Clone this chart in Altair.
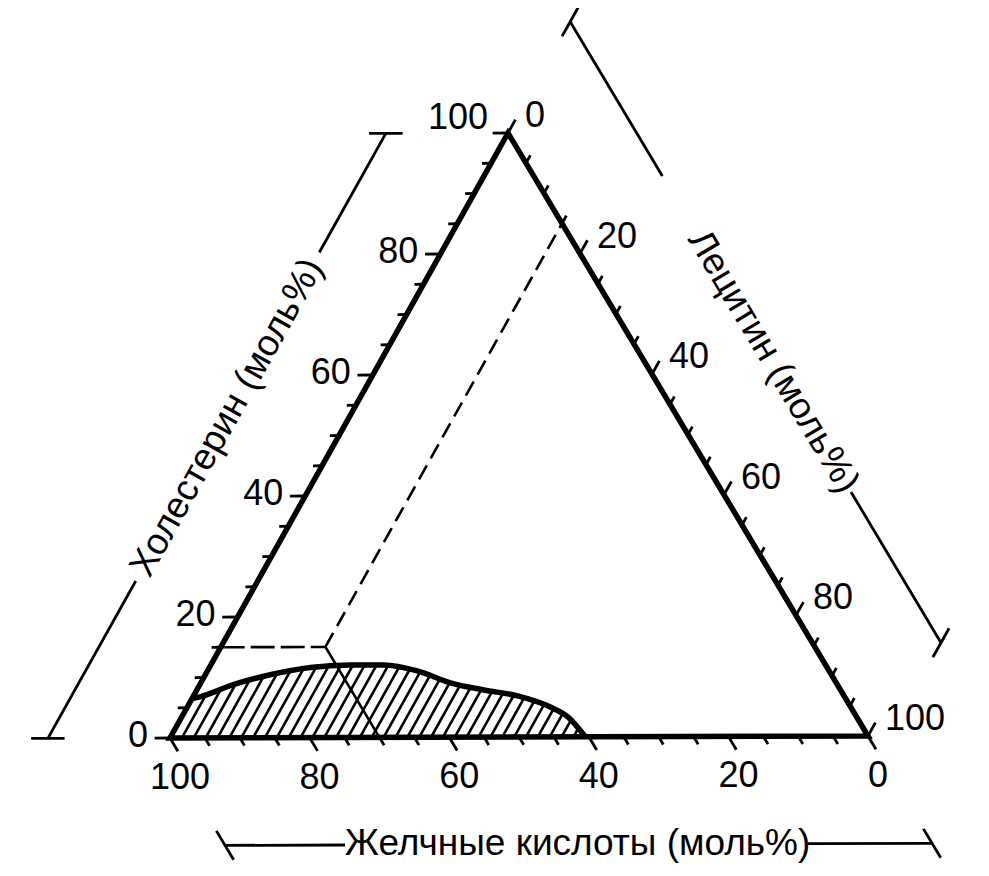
import altair as alt
import numpy as np
import pandas as pd

# ---------------- data (mol %) ----------------
tick_vals = list(range(0, 101, 5))
major_vals = [0, 20, 40, 60, 80, 100]
major_labels = ["0", "20", "40", "60", "80", "100"]

# boundary of the hatched zone (bile acids, lecithin) in mol%
zone_bile = [93.5, 92.2, 86.4, 80.8, 73.9, 68.0, 63.2, 58.9, 55.2, 51.0, 46.7, 42.9, 41.3, 40.5]
zone_lecithin = [0.0, 1.0, 4.8, 8.9, 14.5, 20.0, 24.8, 30.1, 35.8, 41.2, 46.5, 52.2, 55.4, 59.5]
zone_chol = [round(100 - b - l, 2) for b, l in zip(zone_bile, zone_lecithin)]

# example composition marked with guide lines
point_bile, point_lec, point_chol = 70, 15, 15

title_chol = "Холестерин (моль%)"
title_lec = "Лецитин (моль%)"
title_bile = "Желчные кислоты (моль%)"

# ---------------- geometry ----------------
V_B = (170.0, 738.0)   # 100 % bile acids
V_L = (868.0, 736.0)   # 100 % lecithin
V_C = (508.0, 133.0)   # 100 % cholesterol


def tern(b, l, c):
    b = np.atleast_1d(np.asarray(b, float)) / 100
    l = np.atleast_1d(np.asarray(l, float)) / 100
    c = np.atleast_1d(np.asarray(c, float)) / 100
    x = b * V_B[0] + l * V_L[0] + c * V_C[0]
    y = b * V_B[1] + l * V_L[1] + c * V_C[1]
    return x, y


def segs(p1, p2):
    x1, y1 = tern(*p1)
    x2, y2 = tern(*p2)
    n = max(len(x1), len(x2))
    return pd.DataFrame({"x": np.broadcast_to(x1, n), "y": np.broadcast_to(y1, n),
                         "x2": np.broadcast_to(x2, n), "y2": np.broadcast_to(y2, n)})


def pts(b, l, c, **cols):
    x, y = tern(b, l, c)
    d = pd.DataFrame({"x": x, "y": y})
    for k, v in cols.items():
        d[k] = v
    return d


xs = alt.Scale(domain=[8, 981], nice=False, zero=False)
ys = alt.Scale(domain=[8, 868], nice=False, zero=False, reverse=True)
X = alt.X("x:Q", scale=xs, axis=None)
Y = alt.Y("y:Q", scale=ys, axis=None)
FONT = "Liberation Sans"


def rules(df, width, dash=None, cap="butt"):
    kw = dict(color="black", strokeWidth=width, strokeCap=cap)
    if dash:
        kw["strokeDash"] = dash
    return alt.Chart(df).mark_rule(**kw).encode(x=X, y=Y, x2="x2:Q", y2="y2:Q")


def texts(df, size, **kw):
    return alt.Chart(df).mark_text(font=FONT, fontSize=size, color="black", **kw).encode(
        x=X, y=Y, text="t:N")


# ---------------- ticks ----------------
tv = np.array(tick_vals, float)
tl = np.where(np.isin(tv, major_vals), 2.2, 1.3)
z = 0 * tv
chol_ticks = segs((100 - tv, z, tv), (100 - tv + tl, -tl, tv))
lec_ticks = segs((z, tv, 100 - tv), (-tl, tv, 100 - tv + tl))
bile_ticks = segs((tv, 100 - tv, z), (tv, 100 - tv + tl, -tl))
ticks = pd.concat([chol_ticks, lec_ticks, bile_ticks])

mv = np.array(major_vals, float)
mz = 0 * mv
lab_chol = pts(100 - mv, mz, mv, t=major_labels)
lab_chol_low = lab_chol.iloc[:-1]
lab_chol_top = lab_chol.iloc[-1:]
lab_lec = pts(mz, mv, 100 - mv, t=major_labels)
lab_bile = pts(mv, 100 - mv, mz, t=major_labels)

# ---------------- outer brackets ----------------
OFF_L, OFF_C, OFF_B = -17.5, -17.8, -18.4
cap = 2.4

def chol_br(c):
    c = np.asarray(c, float)
    return (100 - OFF_L - c, OFF_L + 0 * c, c)

def lec_br(l):
    l = np.asarray(l, float)
    return (OFF_B + 0 * l, l, 100 - OFF_B - l)

def bile_br(b):
    b = np.asarray(b, float)
    return (b, 100 - OFF_C - b, OFF_C + 0 * b)

brackets = pd.concat([
    segs(chol_br([0, 80.3]), chol_br([26, 100])),
    segs(lec_br([0, 78]), lec_br([25.6, 103])),
    segs(bile_br([101.3, 17.8]), bile_br([84.1, 0])),
])
caps_list = []
for c in [0, 100]:
    b, l, cc = chol_br([c])
    caps_list.append(segs((b + cap, l - cap, cc), (b - cap, l + cap, cc)))
for lv in [0, 103]:
    b, l, cc = lec_br([lv])
    caps_list.append(segs((b - cap, l, cc + cap), (b + cap, l, cc - cap)))
for bv in [101.3, 0]:
    b, l, cc = bile_br([bv])
    caps_list.append(segs((b, l - cap, cc + cap), (b, l + cap, cc - cap)))
caps = pd.concat(caps_list)

ang_chol = float(np.degrees(np.arctan2(V_C[1] - V_B[1], V_C[0] - V_B[0]))) % 360
ang_lec = float(np.degrees(np.arctan2(V_L[1] - V_C[1], V_L[0] - V_C[0]))) % 360
t_chol = pts(*chol_br([53.0]), t=[title_chol])
t_lec = pts(*lec_br([56.4]), t=[title_lec])
t_bile = pts(*bile_br([50.8]), t=[title_bile])

# ---------------- guide lines for the example point ----------------
P = (point_bile, point_lec, point_chol)
guide_h = segs((100 - point_chol, 0, point_chol), P)
guide_up = segs(P, (0, point_lec, 100 - point_lec))
guide_down = segs(P, (point_bile, 100 - point_bile, 0))

# ---------------- hatched zone ----------------
hl = np.arange(1.7, zone_lecithin[-1], 1.7)
ctop = np.interp(hl, zone_lecithin, zone_chol)
hatch = segs((100 - hl, hl, 0 * hl), (100 - hl - ctop, hl, ctop))
zone = pts(zone_bile, zone_lecithin, zone_chol)

# triangle frame
tri = pts([100, 0, 0, 100, 0], [0, 100, 0, 0, 100], [0, 0, 100, 0, 0], i=list(range(5)))

layers = [
    rules(hatch, 2.6),
    alt.Chart(zone).mark_line(color="black", strokeWidth=5.5, interpolate="monotone").encode(x=X, y=Y),
    rules(guide_h, 2.6, dash=[24, 6]),
    rules(guide_up, 2.6, dash=[16, 8]),
    rules(guide_down, 2.6),
    rules(ticks, 2.8),
    rules(brackets, 2.8),
    rules(caps, 2.8),
    alt.Chart(tri).mark_line(color="black", strokeWidth=5.5, strokeJoin="miter").encode(
        x=X, y=Y, order="i:Q"),
    texts(lab_chol_low, 36, align="right", baseline="middle", dx=-22, dy=-2),
    texts(lab_chol_top, 36, align="right", baseline="middle", dx=-20, dy=-15),
    texts(lab_lec, 36, align="left", baseline="middle", dx=17, dy=-17),
    texts(lab_bile, 36, align="center", baseline="middle", dx=10, dy=40),
    texts(t_chol, 37, align="center", baseline="middle", angle=ang_chol),
    texts(t_lec, 37, align="center", baseline="middle", angle=ang_lec),
    texts(t_bile, 37, align="center", baseline="middle"),
]

chart = alt.layer(*layers).properties(
    width=973, height=860, padding=0, autosize="none", background="white"
).configure_view(stroke=None)

chart.save("out.html", embed_options={"renderer": "svg", "actions": False})
